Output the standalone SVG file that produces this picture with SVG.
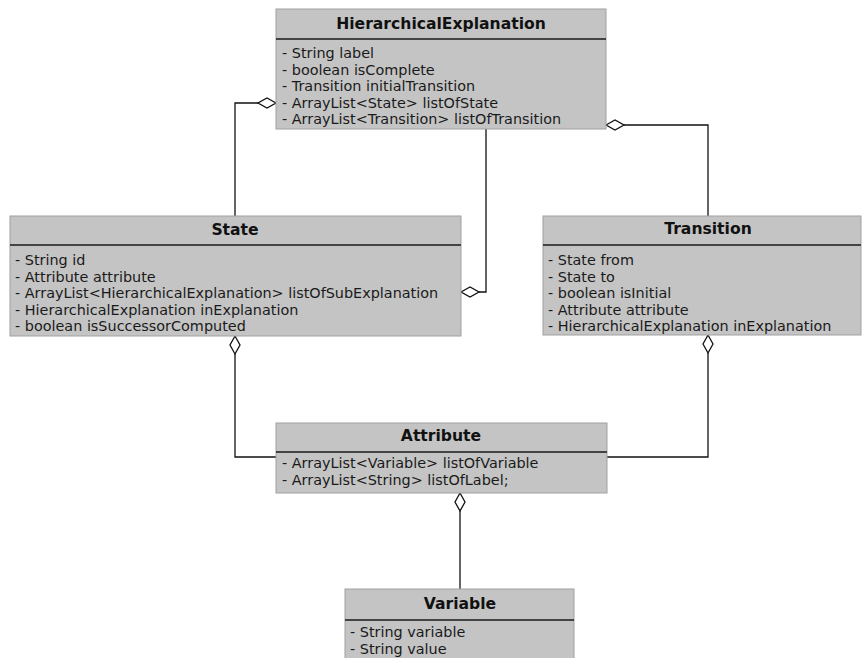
<svg xmlns="http://www.w3.org/2000/svg" width="862" height="658" viewBox="0 0 862 658">
  <style>
    .box { fill: #c4c4c4; stroke: #a0a0a0; stroke-width: 1; }
    .div { stroke: #1a1a1a; stroke-width: 1.5; }
    .title { font-family: "DejaVu Sans", sans-serif; font-size: 15.6px; font-weight: bold; fill: #111; text-anchor: middle; }
    .attr { font-family: "DejaVu Sans", sans-serif; font-size: 14.4px; fill: #1a1a1a; }
    .edge { fill: none; stroke: #111; stroke-width: 1.3; }
    .agg { fill: #fff; stroke: #111; stroke-width: 1.3; }
  </style>
  <rect width="862" height="658" fill="#fff"/>

  <!-- connectors: aggregation lines with hollow diamonds at the owner side -->
  <g id="connectors">
    <!-- HierarchicalExplanation o- State -->
    <polyline class="edge" points="235,216 235,103 258,103"/>
    <polygon class="agg" points="276,103 267,98 258,103 267,108"/>
    <!-- State o- HierarchicalExplanation -->
    <polyline class="edge" points="486,129 486,292 479,292"/>
    <polygon class="agg" points="461,292 470,287 479,292 470,297"/>
    <!-- HierarchicalExplanation o- Transition -->
    <polyline class="edge" points="624,125 708,125 708,216"/>
    <polygon class="agg" points="606,125 615,120 624,125 615,130"/>
    <!-- State o- Attribute -->
    <polyline class="edge" points="235,354 235,457 276,457"/>
    <polygon class="agg" points="235,336 240,345 235,354 230,345"/>
    <!-- Transition o- Attribute -->
    <polyline class="edge" points="708,353 708,457 607,457"/>
    <polygon class="agg" points="708,335 713,344 708,353 703,344"/>
    <!-- Attribute o- Variable -->
    <polyline class="edge" points="460,511 460,589"/>
    <polygon class="agg" points="460,493 465,502 460,511 455,502"/>
  </g>

  <g id="HierarchicalExplanation">
    <rect class="box" x="276" y="9" width="330" height="120"/>
    <line class="div" x1="276" y1="39" x2="606" y2="39"/>
    <text class="title" x="441" y="29">HierarchicalExplanation</text>
    <text class="attr" x="282" y="58">- String label</text>
    <text class="attr" x="282" y="74.5">- boolean isComplete</text>
    <text class="attr" x="282" y="91">- Transition initialTransition</text>
    <text class="attr" x="282" y="107.5">- ArrayList&lt;State&gt; listOfState</text>
    <text class="attr" x="282" y="124">- ArrayList&lt;Transition&gt; listOfTransition</text>
  </g>

  <g id="State">
    <rect class="box" x="10" y="216" width="451" height="120"/>
    <line class="div" x1="10" y1="245" x2="461" y2="245"/>
    <text class="title" x="235" y="235">State</text>
    <text class="attr" x="15" y="265">- String id</text>
    <text class="attr" x="15" y="281.5">- Attribute attribute</text>
    <text class="attr" x="15" y="298">- ArrayList&lt;HierarchicalExplanation&gt; listOfSubExplanation</text>
    <text class="attr" x="15" y="314.5">- HierarchicalExplanation inExplanation</text>
    <text class="attr" x="15" y="331">- boolean isSuccessorComputed</text>
  </g>

  <g id="Transition">
    <rect class="box" x="543" y="216" width="318" height="119"/>
    <line class="div" x1="543" y1="245" x2="861" y2="245"/>
    <text class="title" x="708" y="234">Transition</text>
    <text class="attr" x="548" y="265">- State from</text>
    <text class="attr" x="548" y="281.5">- State to</text>
    <text class="attr" x="548" y="298">- boolean isInitial</text>
    <text class="attr" x="548" y="314.5">- Attribute attribute</text>
    <text class="attr" x="548" y="331">- HierarchicalExplanation inExplanation</text>
  </g>

  <g id="Attribute">
    <rect class="box" x="276" y="423" width="331" height="70"/>
    <line class="div" x1="276" y1="452" x2="607" y2="452"/>
    <text class="title" x="441" y="441">Attribute</text>
    <text class="attr" x="282" y="468">- ArrayList&lt;Variable&gt; listOfVariable</text>
    <text class="attr" x="282" y="485">- ArrayList&lt;String&gt; listOfLabel;</text>
  </g>

  <g id="Variable">
    <rect class="box" x="345" y="589" width="229" height="80"/>
    <line class="div" x1="345" y1="620" x2="574" y2="620"/>
    <text class="title" x="460" y="609">Variable</text>
    <text class="attr" x="350" y="637">- String variable</text>
    <text class="attr" x="350" y="653.5">- String value</text>
  </g>
</svg>
